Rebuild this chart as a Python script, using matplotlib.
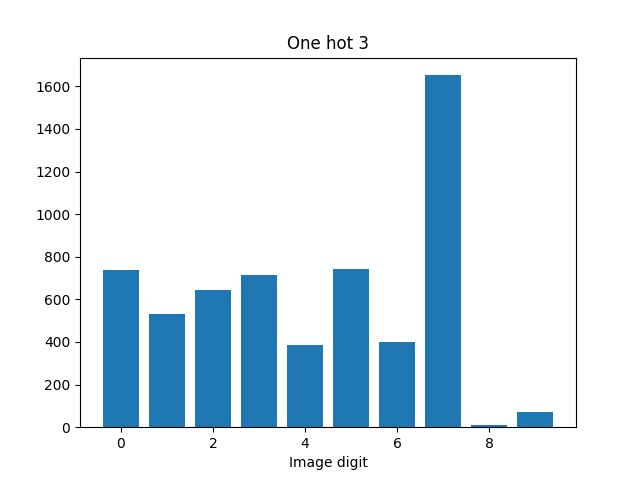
import matplotlib
matplotlib.use("Agg")
import matplotlib.pyplot as plt

digits = list(range(10))
counts = [738, 531, 643, 714, 386, 742, 400, 1652, 8, 69]

fig, ax = plt.subplots(figsize=(6.4, 4.8), dpi=100)
ax.bar(digits, counts)
ax.set_title("One hot 3")
ax.set_xlabel("Image digit")
fig.savefig("out.png")
